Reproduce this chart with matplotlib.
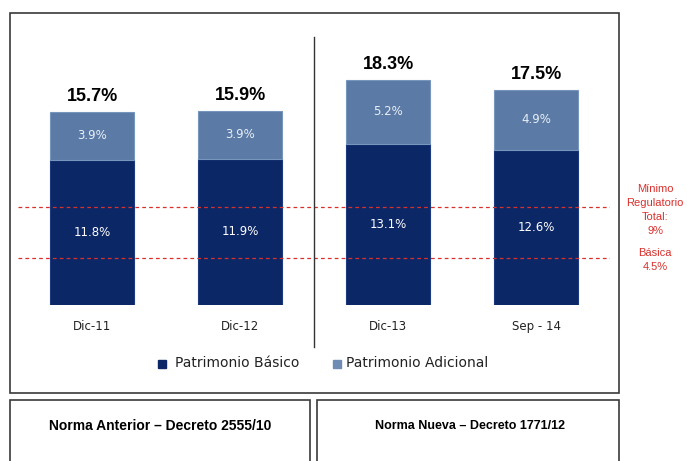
import matplotlib
matplotlib.use("Agg")
import matplotlib.pyplot as plt
from matplotlib.patches import Rectangle

# data
categories = ["Dic-11", "Dic-12", "Dic-13", "Sep - 14"]
basico = [11.8, 11.9, 13.1, 12.6]
adicional = [3.9, 3.9, 5.2, 4.9]
totales = ["15.7%", "15.9%", "18.3%", "17.5%"]
# where the dashed reference lines sit on the chart
line_total = 8.0
line_basica = 3.85

dark = "#0c2766"
light = "#5b7ba6"
red = "#d9302c"

fig = plt.figure(figsize=(6.87, 4.61), dpi=100)
W, H = 687, 461

def px_rect(x0, y0, x1, y1):
    return Rectangle((x0 / W, 1 - y1 / H), (x1 - x0) / W, (y1 - y0) / H,
                     transform=fig.transFigure, fill=False, ec="#3a3a3a", lw=1.2)

fig.patches.append(px_rect(10, 13, 619, 393))
fig.patches.append(px_rect(10, 400, 310, 470))
fig.patches.append(px_rect(317, 400, 619, 470))

ax = fig.add_axes([18 / W, 1 - 305 / H, 592 / W, 268 / H])
x = range(len(categories))
width = 0.57
ax.bar(x, basico, width, color=dark, edgecolor="#1d3a80", lw=0.8)
ax.bar(x, adicional, width, bottom=basico, color=light, edgecolor="#7895bd", lw=0.8)

for i in x:
    ax.text(i, basico[i] / 2, f"{basico[i]}%", ha="center", va="center",
            color="white", fontsize=8.5, family="DejaVu Sans")
    ax.text(i, basico[i] + adicional[i] / 2, f"{adicional[i]}%", ha="center",
            va="center", color="#e8eef7", fontsize=8.5, family="DejaVu Sans")
    ax.text(i, basico[i] + adicional[i] + 0.55, totales[i], ha="center",
            va="bottom", fontsize=13, fontweight="bold", family="Liberation Sans")
    ax.text(i, -1.75, categories[i], ha="center", va="center", fontsize=8.5,
            color="#222222", family="DejaVu Sans")

ax.axhline(line_total, color=red, ls=(0, (3, 2.5)), lw=0.9)
ax.axhline(line_basica, color=red, ls=(0, (3, 2.5)), lw=0.9)
ax.plot([1.5, 1.5], [-3.4, 21.8], color="#333333", lw=1, clip_on=False)

ax.set_xlim(-0.5, 3.5)
ax.set_ylim(0, 21.8)
ax.axis("off")

# right side labels
for txt, yp in [("Mínimo", 189), ("Regulatorio", 203), ("Total:", 217), ("9%", 231),
                ("Básica", 253), ("4.5%", 267)]:
    fig.text(655 / W, 1 - yp / H, txt, ha="center", va="center", color=red,
             fontsize=8, family="Liberation Sans")

# legend
fig.patches.append(Rectangle((158 / W, 1 - 367.5 / H), 8 / W, 8 / H,
                             transform=fig.transFigure, color=dark))
fig.text(175 / W, 1 - 363 / H, "Patrimonio Básico", va="center", fontsize=10,
         color="#222222", family="DejaVu Sans")
fig.patches.append(Rectangle((333 / W, 1 - 367.5 / H), 8 / W, 8 / H,
                             transform=fig.transFigure, color="#6f8cb5"))
fig.text(346 / W, 1 - 363 / H, "Patrimonio Adicional", va="center", fontsize=10,
         color="#222222", family="DejaVu Sans")

fig.text(160 / W, 1 - 426 / H, "Norma Anterior – Decreto 2555/10", ha="center",
         va="center", fontsize=10, fontweight="bold", family="Liberation Sans")
fig.text(470 / W, 1 - 426 / H, "Norma Nueva – Decreto 1771/12", ha="center",
         va="center", fontsize=9, fontweight="bold", family="Liberation Sans")

fig.savefig("out.png", dpi=100)
